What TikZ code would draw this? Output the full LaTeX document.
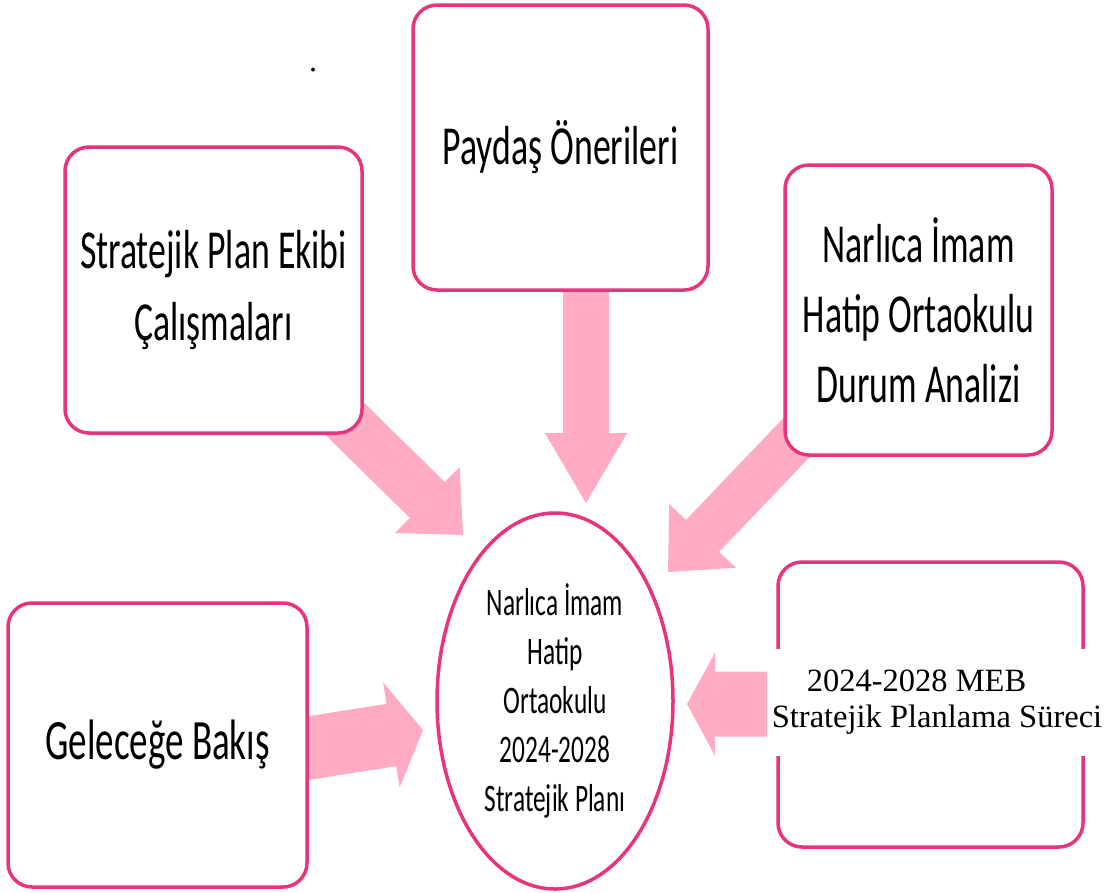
\documentclass[tikz,border=0pt]{standalone}
\usepackage{fontspec}
\setmainfont{Carlito}[FakeStretch=0.65]
\newfontfamily\timesfont{Liberation Serif}
\usetikzlibrary{shapes.geometric,arrows.meta,backgrounds}
\definecolor{rim}{RGB}{232,52,124}
\definecolor{blush}{RGB}{255,171,196}

\begin{document}
\begin{tikzpicture}[x=1pt,y=-1pt,
  box/.style={draw=rim, line width=3.5pt, fill=white, rounded corners=24pt, inner sep=0pt, align=center, font=\fontsize{55}{72}\selectfont},
  flow/.style={draw=blush, line width=#1}]
\useasboundingbox (0,0) rectangle (1115,892);

\node[box, minimum width=297pt, minimum height=286pt] (ekip) at (213.5,290) {Stratejik Plan Ekibi\\Çalışmaları};
\node[box, minimum width=295pt, minimum height=285pt] (paydas) at (560.5,147.5) {Paydaş Önerileri};
\node[box, minimum width=267pt, minimum height=290pt, font=\fontsize{55}{70}\selectfont] (durum) at (918.5,310) {Narlıca İmam\\Hatip Ortaokulu\\Durum Analizi};
\node[box, minimum width=299pt, minimum height=284pt, font=\fontsize{57}{70}\selectfont] (bakis) at (157.5,745) {Geleceğe Bakış};
\node[box, minimum width=305pt, minimum height=285pt] (meb) at (930.5,704.5) {};
\node[fill=white, minimum width=340pt, minimum height=107pt, inner sep=0pt, align=left, font=\timesfont\fontsize{32.5}{36}\selectfont] (mebtext) at (937,702) {\hspace*{35pt}2024-2028 MEB\\Stratejik Planlama Süreci}; % covers the box sides
\node[ellipse, draw=rim, line width=3.5pt, fill=white, minimum width=236pt, minimum height=376pt, inner sep=0pt, align=center, font=\fontsize{39}{49}\selectfont] (plan) at (555,701) {Narlıca İmam\\Hatip\\Ortaokulu\\2024-2028\\Stratejik Planı};
\node[anchor=base, inner sep=0pt, font=\timesfont\fontsize{32}{36}\selectfont] (dot) at (313,71) {.};

% arrow tips near the ellipse
\coordinate (tipA) at (463,535);
\coordinate (tipB) at (586,503);
\coordinate (tipC) at (668,572);
\coordinate (tipD) at (423,730);
\coordinate (tipE) at (687,704);

\begin{scope}[on background layer]
\draw[flow=50pt, -{Triangle[length=50pt,width=92pt,line width=1.5pt]}] (ekip.center) -- (tipA);
\draw[flow=46pt, -{Triangle[length=70pt,width=82pt,line width=1.5pt]}] (tipB |- paydas.center) -- (tipB);
\draw[flow=46pt, -{Triangle[length=50pt,width=92pt,line width=1.5pt]}] (durum.center) -- (tipC);
\draw[flow=63pt, shorten <=-30pt, -{Triangle[length=32pt,width=106pt,line width=1.5pt]}] ([yshift=-3pt]bakis.east) -- (tipD);
\draw[flow=65pt, -{Triangle[length=28pt,width=103pt,line width=1.5pt]}] (meb.center) -- (tipE);
\end{scope}
\end{tikzpicture}
\end{document}
